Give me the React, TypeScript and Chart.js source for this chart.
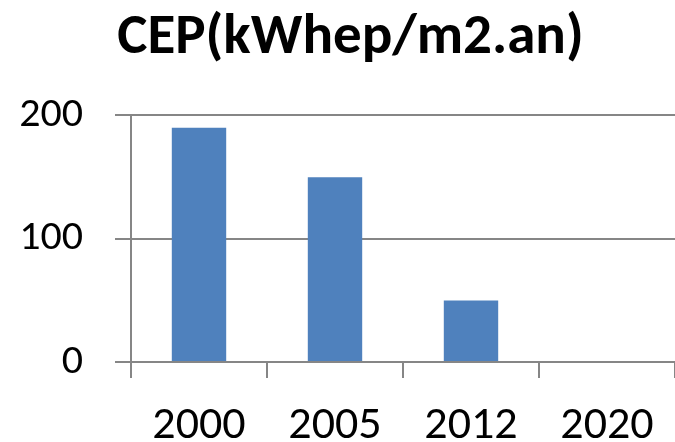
import React, { useEffect, useRef } from "react";
import { Chart, registerables } from "chart.js";

Chart.register(...registerables);

const categories = ["2000", "2005", "2012", "2020"];
const cepValues = [190, 150, 50, 0];
const yTicks = [0, 100, 200];
const titleText = "CEP(kWhep/m2.an)";

const FONT = "Carlito, 'Open Sans', sans-serif";
const GRID = "#868686";

const shiftTitle = {
  id: "shiftTitle",
  afterLayout(chart: any) {
    if (chart.titleBlock) chart.titleBlock.left = 26;
  },
};

export default function App() {
  const ref = useRef<HTMLCanvasElement | null>(null);
  useEffect(() => {
    if (!ref.current) return;
    const chart = new Chart(ref.current, {
      type: "bar",
      data: {
        labels: categories,
        datasets: [
          {
            data: cepValues,
            backgroundColor: "#4F81BD",
            categoryPercentage: 1,
            barPercentage: 0.4,
          },
        ],
      },
      plugins: [shiftTitle],
      options: {
        animation: false,
        responsive: false,
        layout: { padding: 0 },
        plugins: {
          legend: { display: false },
          tooltip: { enabled: false },
          title: {
            display: true,
            text: titleText,
            color: "#000",
            font: { family: FONT, size: 57, weight: "bold", lineHeight: 1.2 },
            padding: { top: 4.8, bottom: 42.3 },
          },
        },
        scales: {
          x: {
            grid: {
              offset: true,
              drawOnChartArea: false,
              drawTicks: true,
              tickLength: 16,
              color: GRID,
              lineWidth: 2,
            },
            border: { display: true, color: GRID, width: 2 },
            ticks: {
              color: "#000",
              font: { family: FONT, size: 46 },
              padding: 21,
              maxRotation: 0,
            },
            afterFit: (s: any) => {
              s.height = 80;
            },
          },
          y: {
            min: 0,
            max: 200,
            afterBuildTicks: (s: any) => {
              s.ticks = yTicks.map((v) => ({ value: v }));
            },
            grid: {
              drawTicks: true,
              tickLength: 16,
              color: GRID,
              lineWidth: 2,
            },
            border: { display: true, color: GRID, width: 2 },
            ticks: {
              color: "#000",
              font: { family: FONT, size: 42 },
              padding: 32,
            },
            afterFit: (s: any) => {
              s.width = 131;
            },
          },
        },
      },
    });
    return () => chart.destroy();
  }, []);
  return (
    <div style={{ position: "fixed", left: 0, top: 0, width: 675, height: 442, background: "#fff" }}>
      <canvas ref={ref} width={675} height={442} style={{ width: 675, height: 442 }} />
    </div>
  );
}
